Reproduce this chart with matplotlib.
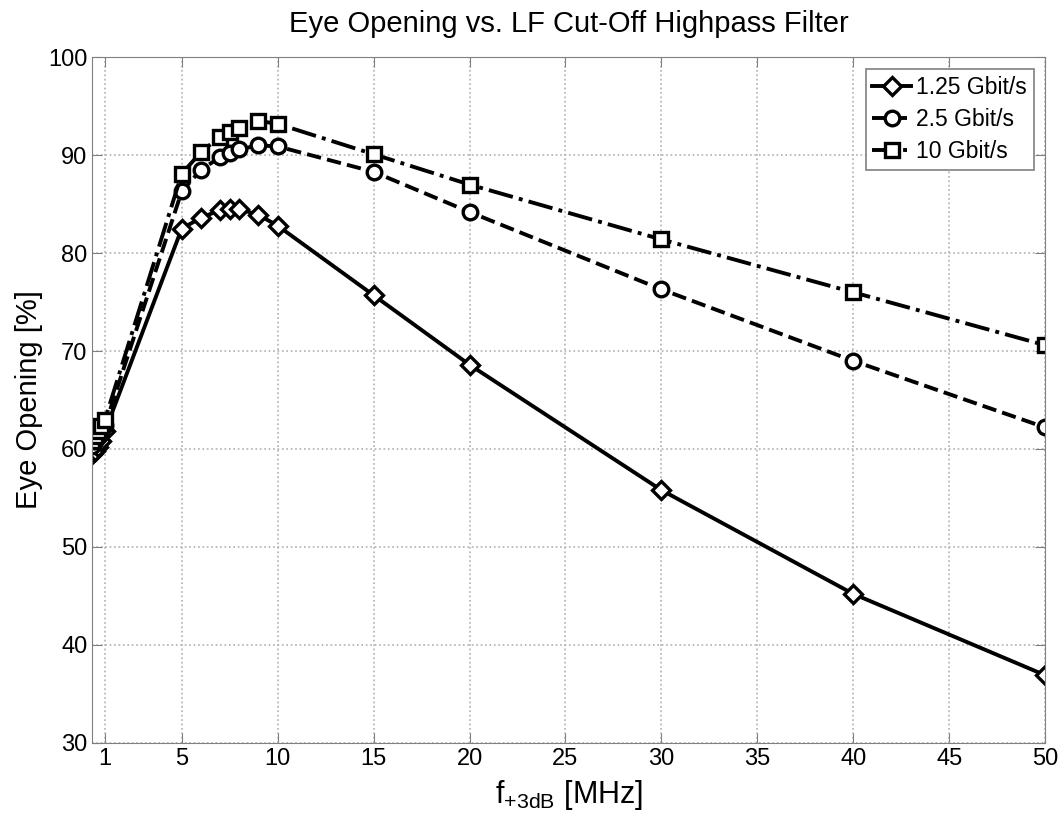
import numpy as np
import matplotlib.pyplot as plt

plt.rcParams['font.family'] = ['Liberation Sans', 'DejaVu Sans']
plt.rcParams['mathtext.fontset'] = 'custom'
plt.rcParams['mathtext.rm'] = 'Liberation Sans'
plt.rcParams['mathtext.it'] = 'Liberation Sans'

# data
f_mhz = [0.35, 0.5, 0.65, 0.8, 1, 5, 6, 7, 7.5, 8, 9, 10, 15, 20, 30, 40, 50]
eye_125 = [59.5, 59.8, 60.2, 60.8, 61.8, 82.5, 83.6, 84.4, 84.5, 84.5, 83.9, 82.8, 75.7, 68.6, 55.8, 45.2, 36.9]
eye_25 = [60.3, 60.8, 61.2, 61.7, 62.4, 86.3, 88.5, 89.8, 90.2, 90.6, 91.0, 90.9, 88.3, 84.2, 76.3, 69.0, 62.2]
eye_10 = [60.8, 61.3, 61.8, 62.3, 63.0, 88.1, 90.3, 91.9, 92.4, 92.8, 93.5, 93.2, 90.1, 87.0, 81.4, 76.0, 70.6]
labels = ["1.25 Gbit/s", "2.5 Gbit/s", "10 Gbit/s"]
xticks = [1, 5, 10, 15, 20, 25, 30, 35, 40, 45, 50]

fig = plt.figure(figsize=(10.61, 8.18), dpi=100)
ax = fig.add_axes([0.087, 0.092, 0.898, 0.838])

style = dict(color="black", lw=2.8, markerfacecolor="white", markeredgewidth=2.4)
ax.plot(f_mhz, eye_125, "-", marker="D", markersize=9, label=labels[0], **style)
ax.plot(f_mhz, eye_25, "--", marker="o", markersize=10.5, label=labels[1], **style)
ax.plot(f_mhz, eye_10, "-.", marker="s", markersize=10, label=labels[2], **style)

ax.set_xlim(0.34, 50)
ax.set_ylim(30, 100)
ax.set_xticks(xticks)
ax.set_yticks(np.arange(30, 101, 10))
ax.grid(True, linestyle=":", color="#b0b0b0", linewidth=1.2)
ax.tick_params(direction="in", top=True, right=True, labelsize=17, length=7,
               color="#808080")
for s in ax.spines.values():
    s.set_color("#808080")

ax.set_title("Eye Opening vs. LF Cut-Off Highpass Filter", fontsize=21, pad=18)
ax.set_ylabel("Eye Opening [%]", fontsize=21, labelpad=4)
ax.set_xlabel(r"f$_{+3dB}$ [MHz]", fontsize=22, labelpad=6)

leg = ax.legend(loc="upper right", fontsize=16.5, fancybox=False, framealpha=1,
                edgecolor="#808080", handlelength=1.7, handletextpad=0.2,
                borderpad=0.3, labelspacing=0.4, borderaxespad=0.5)
leg.get_frame().set_linewidth(1.2)

fig.savefig("out.png", dpi=100)
